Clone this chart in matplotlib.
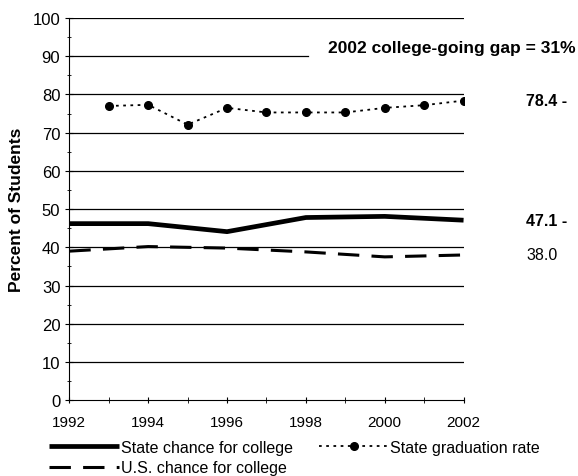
import matplotlib.pyplot as plt
from matplotlib.ticker import MultipleLocator

plt.rcParams['font.family'] = ['Liberation Sans', 'DejaVu Sans']

# data
grad_years = [1993, 1994, 1995, 1996, 1997, 1998, 1999, 2000, 2001, 2002]
grad_rate = [77.0, 77.3, 72.1, 76.5, 75.3, 75.3, 75.3, 76.5, 77.2, 78.4]

chance_years = [1992, 1994, 1996, 1998, 2000, 2002]
state_chance = [46.2, 46.2, 44.1, 47.8, 48.1, 47.1]
us_chance = [39.0, 40.2, 39.8, 38.8, 37.5, 38.0]

fig = plt.figure(figsize=(5.78, 4.77), dpi=100)
ax = fig.add_axes([0.12, 0.159, 0.682, 0.801])

# gridlines (the 90 line stops short where the gap note sits)
for v in range(10, 101, 10):
    ax.axhline(v, xmax=0.605 if v == 90 else 1, color='black', lw=0.9, zorder=1)

ax.plot(chance_years, state_chance, color='black', lw=3.4, solid_capstyle='butt',
        label='State chance for college', zorder=3)
ax.plot(grad_years, grad_rate, color='black', lw=1.3, ls=(0, (1.5, 2.5)), marker='o',
        markersize=5.5, label='State graduation rate', zorder=3)
ax.plot(chance_years, us_chance, color='black', lw=2.2, ls=(0, (7, 4)),
        label='U.S. chance for college', zorder=3)

ax.set_xlim(1992, 2002)
ax.set_ylim(0, 100)
ax.set_xticks(range(1992, 2003, 2))
ax.xaxis.set_minor_locator(MultipleLocator(1))
ax.yaxis.set_major_locator(MultipleLocator(10))
ax.yaxis.set_minor_locator(MultipleLocator(5))
ax.tick_params(axis='both', which='both', direction='inout', color='black')
ax.tick_params(axis='y', which='major', length=6, labelsize=12)
ax.tick_params(axis='y', which='minor', length=3)
ax.tick_params(axis='x', which='major', length=5, labelsize=11, pad=8)
ax.tick_params(axis='x', which='minor', length=4)
for s in ['top', 'right']:
    ax.spines[s].set_visible(False)
ax.set_ylabel('Percent of Students', fontsize=12.5, fontweight='bold', labelpad=6)

ax.text(2004.85, 92.4, '2002 college-going gap = 31%', ha='right', va='center',
        fontsize=12.5, fontweight='bold', zorder=4)

ax.annotate('78.4 -', xy=(2002, grad_rate[-1]), xytext=(45, 0), textcoords='offset points',
            ha='left', va='center', fontsize=11.5, fontweight='bold', annotation_clip=False)
ax.annotate('47.1 -', xy=(2002, state_chance[-1]), xytext=(45, 0), textcoords='offset points',
            ha='left', va='center', fontsize=11.5, fontweight='bold', annotation_clip=False)
ax.annotate('38.0', xy=(2002, us_chance[-1]), xytext=(45, 0), textcoords='offset points',
            ha='left', va='center', fontsize=11.5, annotation_clip=False)

handles, labels = ax.get_legend_handles_labels()
order = [0, 2, 1]
fig.legend([handles[i] for i in order], [labels[i] for i in order],
           loc='upper left', bbox_to_anchor=(0.085, 0.076), ncol=2, frameon=False,
           fontsize=11.5, handlelength=4.4, handletextpad=0.1, columnspacing=1.6,
           labelspacing=0.35, borderaxespad=0.0, borderpad=0.0)

fig.savefig('out.png', dpi=100)
